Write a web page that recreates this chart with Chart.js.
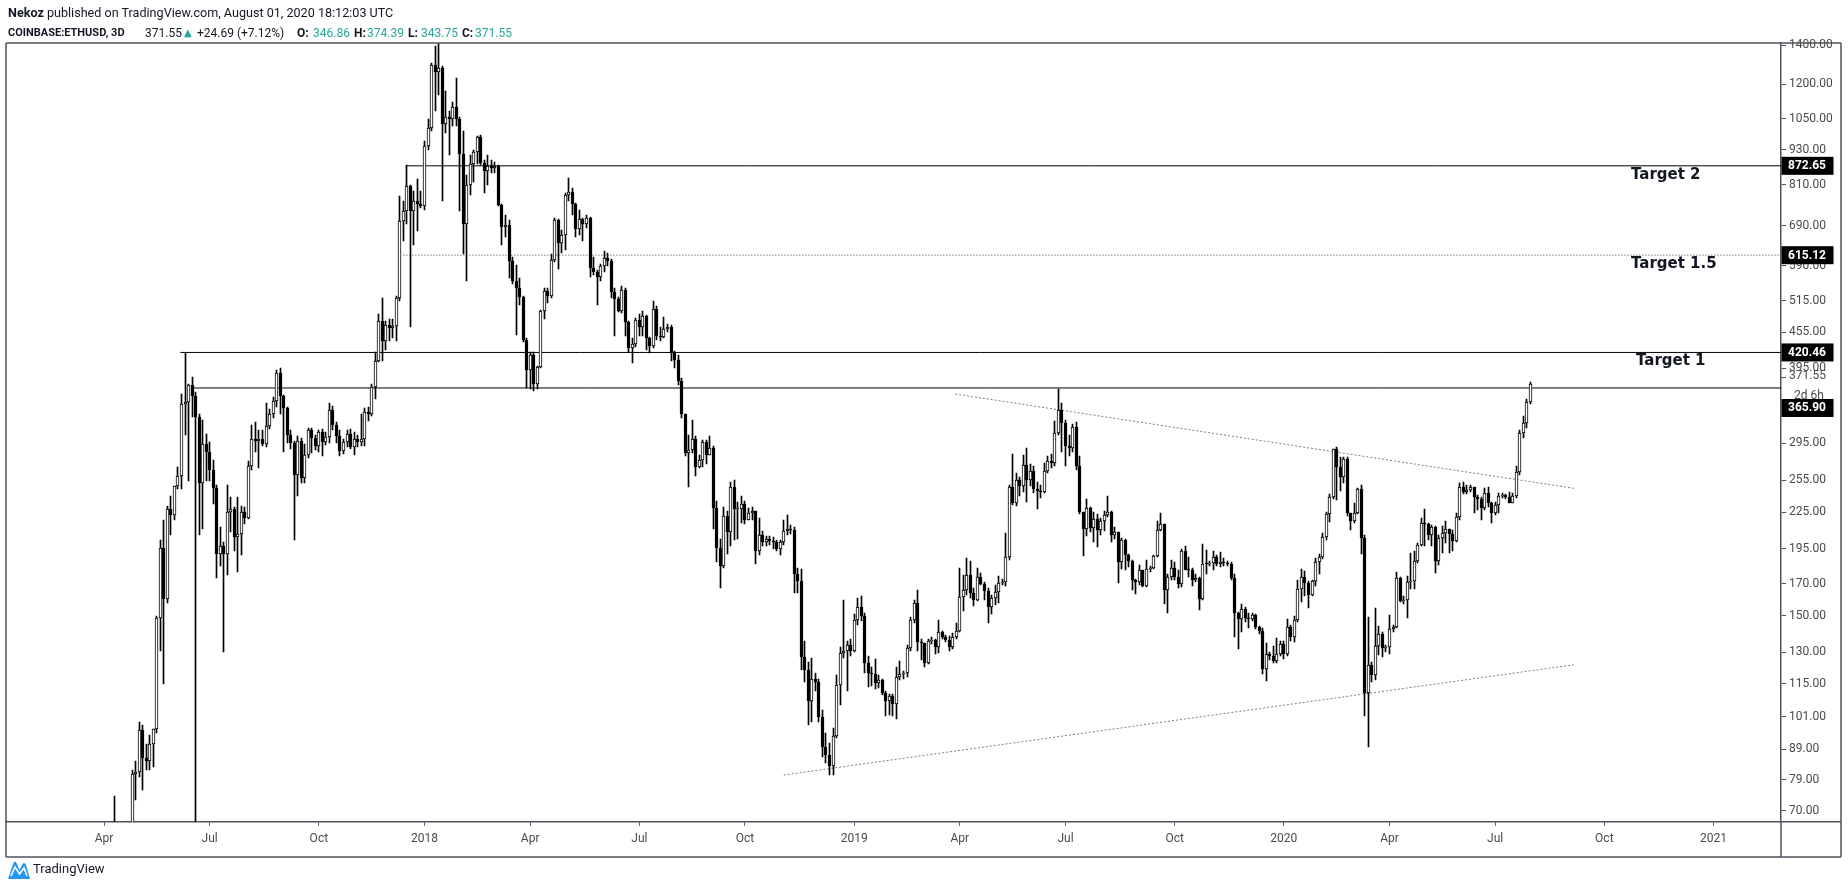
<!DOCTYPE html>
<html>
<head>
<meta charset="utf-8">
<title>COINBASE:ETHUSD, 3D</title>
<script src="https://cdn.jsdelivr.net/npm/chart.js@4.4.0/dist/chart.umd.min.js"></script>
<style>
  html, body { margin: 0; padding: 0; background: #fff; }
  #wrap { position: relative; width: 1848px; height: 888px; overflow: hidden; background: #fff; }
  #myChart { position: absolute; left: 0; top: 0; }
  .txt { position: absolute; font-family: Roboto, 'Liberation Sans', sans-serif; font-size: 12px;
         line-height: 14px; color: #131722; white-space: nowrap; }
  .bold { font-weight: bold; }
  .up { color: #26a69a; }
</style>
</head>
<body>
<div id="wrap">
  <canvas id="myChart" width="1848" height="888"></canvas>

  <div class="txt" style="left:8px;top:6px;font-size:12.6px"><span class="bold">Nekoz</span> published on TradingView.com, August 01, 2020 18:12:03 UTC</div>
  <div class="txt bold" style="left:8px;top:26px;font-size:11px">COINBASE:ETHUSD, 3D</div>
  <div class="txt" style="left:145px;top:26px">371.55</div>
  <div class="txt up" style="left:184px;top:26px;font-family:'DejaVu Sans';font-size:10px">▲</div>
  <div class="txt" style="left:197px;top:26px">+24.69 (+7.12%)</div>
  <div class="txt bold" style="left:297px;top:26px">O:</div>
  <div class="txt up" style="left:313px;top:26px">346.86</div>
  <div class="txt bold" style="left:354px;top:26px">H:</div>
  <div class="txt up" style="left:367px;top:26px">374.39</div>
  <div class="txt bold" style="left:408px;top:26px">L:</div>
  <div class="txt up" style="left:421px;top:26px">343.75</div>
  <div class="txt bold" style="left:462px;top:26px">C:</div>
  <div class="txt up" style="left:475px;top:26px">371.55</div>

  <svg style="position:absolute;left:7px;top:858px" width="24" height="22" viewBox="0 0 24 22">
    <path d="M1 21 L6 6 Q8 1 10 6 L12.5 12 L15 7 Q17 3 19 7 L23 21 Z" fill="#2196f3"/>
    <polyline points="4,18 8,9 12.5,16 17,10 20,18" fill="none" stroke="#fff" stroke-width="1.6"/>
  </svg>
  <div class="txt" style="left:33px;top:861px;font-size:13px;line-height:16px">TradingView</div>
</div>

<script>
// 3D bars, counted in days from 2018-01-01; first bar opens 2017-04-12
const barStartDay = -264;
const barStepDays = 3;

const opens = [
  50,52,50,49,49,62,80.7,81.5,96,86,
  85,91,96.5,149,196,160,228,223,249,259,
  343,346,370,354,327,252,294,285,265,247,
  191,197,191,225,228,204,207,225,220,270,
  300,297,300,294,315,330,348,388,354,338,
  305,295,260,297,257,282,310,301,292,308,
  296,302,336,316,303,286,296,306,290,300,
  296,300,333,331,368,407,475,440,468,462,
  466,520,704,732,805,732,760,752,745,942,
  1012,1293,1262,1281,1029,1055,1050,1098,1050,913,
  696,810,880,922,977,884,855,871,866,871,
  750,686,692,601,555,540,523,442,393,417,
  372,397,495,534,525,604,707,644,667,780,
  788,752,682,708,695,712,585,575,565,590,
  608,602,533,518,495,536,474,428,435,477,
  465,485,445,432,499,449,446,461,465,420,
  408,376,331,284,287,300,269,276,296,282,
  289,229,196,182,222,208,248,228,228,232,
  218,224,226,193,206,200,203,201,200,195,
  200,209,211,210,177,172,127.6,121.5,107.5,117.4,
  115.6,100.9,89.9,87.2,83.3,93.8,114.5,129.6,130.5,134,
  131,147.6,155.5,150,124.6,119.8,119.5,115.5,116.7,111,
  107.7,109.7,106.3,118.3,119.5,119.8,132.1,147.6,158,135.6,
  134.7,124.9,136.1,136.5,132.6,141,138,136.5,133,138,
  141.6,161.3,166,176,164.3,159.6,174.8,169.9,165.5,155.5,
  160.7,165,170.8,171.4,189.1,248.7,233.6,255.3,249,270.7,
  255.3,264.7,246,244.4,244,264.7,275.2,272.7,307.2,335.7,
  318.5,291.9,288.9,313.5,269.2,224.9,210.6,228.7,211.4,219.1,
  209.8,217.7,222.6,225.4,206,208,185.3,201.8,190.7,186,
  172.4,171.3,179.3,168.4,180.5,181.2,189.4,209.8,214.9,166.2,
  174.7,181.2,174.7,169.7,193,179.8,179.5,172.9,174.3,160.4,
  184,183.5,184.5,188.9,184,185.3,184.8,184,174.3,151.8,
  148,154.4,148.5,148,150.8,143.8,141.6,122,129,128.2,
  125.7,129,134.5,129,143.8,138,147.8,166.9,174.8,170.8,
  162.6,171.9,185.1,189,204.3,223.6,238.5,287.9,269.1,257.9,
  276.9,224.2,217.1,224.2,246.1,203.5,110.9,123.6,119.2,133.2,
  139.8,132.2,132.6,142.5,143.5,174.2,159.1,159.6,171.2,171.7,
  185.9,198.3,215.7,214.9,206.1,212.4,185.9,203.5,207.5,210.7,
  206.9,200.9,220.7,248.7,243.9,245.5,248,238.5,236.6,228.6,
  242.9,233,224.7,231.5,239.7,240.7,239.1,233.6,239.7,263.8,
  307,318.6,346.86
];
const highs = [
  74,60,55,52,63,82,85,99,98,91,
  94,96.5,150,202,218,231,240,249,269,358,
  420,372,382,360,330,323,306,296,276,250,
  212,200,250,239,230,239,231,230,275,316,
  320,310,310,345,337,353,392,395,356,340,
  310,297,303,301,294,313,313,305,311,312,
  308,345,341,320,310,300,310,312,308,305,
  330,338,340,372,422,489,520,475,480,480,
  525,775,760,877,810,790,830,790,960,1050,
  1305,1392,1420,1290,1168,1080,1120,1230,1055,999,
  843,910,930,982,985,894,912,894,885,875,
  752,720,707,610,593,562,525,445,422,422,
  398,497,540,540,617,712,710,680,785,833,
  800,755,735,712,720,715,612,580,595,625,
  620,606,540,522,545,540,476,445,482,488,
  495,487,447,515,505,465,483,470,469,423,
  416,380,331,305,323,303,281,298,298,303,
  292,235,203,230,226,253,255,234,240,235,
  229,230,226,220,209,205,205,204,202,202,
  218,223,214,212,181,180,136,125,127,120,
  117,103.7,94.8,91.3,96.7,119,133,159.6,136,137,
  151,160.7,162,152,128.3,123,126.7,119,117,112,
  110.3,110.3,123,125.6,121,133.9,149.2,159.6,166,137,
  135,137,138,137,147.6,141.5,139,138.5,140.3,146,
  180.7,176,188.3,185.9,167,180.7,177.5,171.5,167,163,
  169,175.5,173,207.2,250,282.6,262,258,281.5,289,
  272,270,253,250,272.5,280,283,321,364,345,
  323,304,318,320,280.5,225.4,236.9,229.3,224.9,223.4,
  220,226,240,226.3,212,208.5,203.4,202.6,191.2,186.5,
  173.1,182.7,179.5,186.5,182,190,217.7,224,215,177,
  186.5,185.3,179.8,194.9,197.5,188.9,181.2,177,174.7,198.7,
  194,186,193.5,190,192.8,188,186,185.3,177,152.3,
  157.4,155.5,151.8,152,151.4,144,142.9,134.9,130,133.3,
  137.4,136,136,148,145,149.9,172.9,179.9,178.8,171.9,
  172.5,188.3,190.8,207.5,225.6,241.7,288.6,290.9,278.9,278.9,
  278.9,224.7,233,247.1,250.3,206,149.2,125,154.5,144.4,
  140.7,134,150.5,145,178,174.5,162,175.3,192,193.2,
  199.6,219.9,227.7,215.7,214.3,212.9,206,212.9,217.1,211,
  210.2,224.7,251.9,253.6,250.3,250.3,248.7,240.7,239.1,247.1,
  248,234.5,234.5,242.9,242.3,242,243.9,242.3,269.8,310.5,
  327.5,349.9,374.39
];
const lows = [
  47,48,47,46,48,60,73,80,76,82,
  82,83,95,131,115,158,206,218,246,246,
  305,254,327,0.1,206,211,254,254,232,174,
  182,130,176,208,193,178,190,215,219,265,
  285,268,292,291,312,325,340,330,285,295,
  288,202,240,252,252,278,284,287,285,280,
  293,295,310,295,280,283,290,288,282,290,
  292,292,322,328,350,405,407,425,440,445,
  440,515,650,694,465,640,676,740,735,930,
  1000,1083,1150,760,992,910,1020,1018,730,617,
  555,780,820,880,876,785,810,848,850,745,
  641,660,562,550,451,506,438,366,365,362,
  365,395,480,510,520,600,583,620,627,760,
  720,660,665,650,685,565,570,507,555,575,
  590,520,449,492,490,448,421,404,430,449,
  449,425,420,428,441,440,445,456,406,396,
  370,325,280,248,284,259,268,269,272,281,
  211,185,167,181,191,197,202,203,216,215,
  218,218,184,190,197,197,198,195,193,190,
  198,206,207,164,164,121.5,116,98,99,112,
  99,86.5,84.3,80.6,80.6,93,105.9,127,112,128,
  130,145,147,120,113.7,114,112.7,113,110,101.2,
  101.8,101.2,100.2,116.8,117,118,131,146,131,126,
  123,124.5,134.5,129,129.6,137,135.5,131,132,137,
  141,153,163,160.6,156,159,169,159.6,146,151,
  156.5,158,169,168.9,186.7,231.5,231,240,244,234,
  249,243,228,238,243,262,268,270,305,285,
  270,280,285,265,223.4,189.4,205.2,207.9,200,196.2,
  206,209,221,200,203,170.6,180.5,179.3,181.6,165.8,
  163.6,169,168,168,178,180,188.9,209.2,157.4,151.8,
  172.9,172.9,167.6,168,179.3,174.7,168.4,171,153.4,159.4,
  177,182,179.3,182,181.6,182,182,172.4,138,131.8,
  141,146.6,142.9,147,142.7,140,119.4,116.4,126,124.6,
  124.9,128,126.7,128,136,135.7,146.3,158.1,162.2,154.5,
  162.2,168.6,176.4,187.6,201.7,216.3,236.6,236,244.8,251.9,
  221.3,209.6,216,223.6,190.8,101.3,89.8,116,116.6,128.5,
  127.7,130,129.4,141,142.9,158.1,157,148.6,166.4,166.4,
  184.6,197,197,202.2,197,177.1,183,192,199.6,192,
  193.2,200.1,218.5,241.7,242,243.9,224.7,227.1,217.9,227.1,
  230,215.7,222.7,224.2,237.5,237,233,233,237.5,260.2,
  301.2,312.5,343.75
];
const closes = [
  52,50,49,49,62,80.7,81.5,96,86,85,
  91,96.5,149,196,160,228,223,249,259,343,
  346,370,354,327,252,294,285,265,247,191,
  197,191,225,228,204,207,225,220,270,300,
  297,300,294,315,330,348,388,354,338,305,
  295,260,297,257,282,310,301,292,308,296,
  302,336,316,303,286,296,306,290,300,296,
  300,333,331,368,407,475,440,468,462,466,
  520,704,732,805,732,760,752,745,942,1012,
  1293,1262,1281,1029,1055,1050,1098,1050,913,696,
  810,880,922,977,884,855,871,866,871,750,
  686,692,601,555,540,523,442,393,417,372,
  397,495,534,525,604,707,644,667,780,788,
  752,682,708,695,712,585,575,565,590,608,
  602,533,518,495,536,474,428,435,477,465,
  485,445,432,499,449,446,461,465,420,408,
  376,331,284,287,300,269,276,296,282,289,
  229,196,182,222,208,248,228,228,232,218,
  224,226,193,206,200,203,201,200,195,200,
  209,211,210,177,172,127.6,121.5,107.5,117.4,115.6,
  100.9,89.9,87.2,83.3,93.8,114.5,129.6,130.5,134,131,
  147.6,155.5,150,124.6,119.8,119.5,115.5,116.7,111,107.7,
  109.7,106.3,118.3,119.5,119.8,132.1,147.6,158,135.6,134.7,
  124.9,136.1,136.5,132.6,141,138,136.5,133,138,141.6,
  161.3,166,176,164.3,159.6,174.8,169.9,165.5,155.5,160.7,
  165,170.8,171.4,189.1,248.7,233.6,255.3,249,270.7,255.3,
  264.7,246,244.4,244,264.7,275.2,272.7,307.2,335.7,318.5,
  291.9,288.9,313.5,269.2,224.9,210.6,228.7,211.4,219.1,209.8,
  217.7,222.6,225.4,206,208,185.3,201.8,190.7,186,172.4,
  171.3,179.3,168.4,180.5,181.2,189.4,209.8,214.9,166.2,174.7,
  181.2,174.7,169.7,193,179.8,179.5,172.9,174.3,160.4,184,
  183.5,184.5,188.9,184,185.3,184.8,184,174.3,151.8,148,
  154.4,148.5,148,150.8,143.8,141.6,122,129,128.2,125.7,
  129,134.5,129,143.8,138,147.8,166.9,174.8,170.8,162.6,
  171.9,185.1,189,204.3,223.6,238.5,287.9,269.1,257.9,276.9,
  224.2,217.1,224.2,246.1,203.5,110.9,123.6,119.2,133.2,139.8,
  132.2,132.6,142.5,143.5,174.2,159.1,159.6,171.2,171.7,185.9,
  198.3,215.7,214.9,206.1,212.4,185.9,203.5,207.5,210.7,206.9,
  200.9,220.7,248.7,243.9,245.5,248,238.5,236.6,228.6,242.9,
  233,224.7,231.5,239.7,240.7,239.1,233.6,239.7,263.8,307,
  318.6,346.86,371.55
];

// time axis: first bar of each labelled month
const tickDays = [-273, -183, -90, 0, 90, 183, 273, 366, 456, 546, 639, 732, 822, 912, 1005, 1098];
const tickLabels = ['Apr', 'Jul', 'Oct', '2018', 'Apr', 'Jul', 'Oct', '2019', 'Apr', 'Jul', 'Oct', '2020', 'Apr', 'Jul', 'Oct', '2021'];
const priceTicks = [1400, 1200, 1050, 930, 810, 690, 590, 515, 455, 395, 340, 295, 255, 225, 195, 170, 150, 130, 115, 101, 89, 79, 70];

// drawings on the chart
const levelPrices = [872.65, 615.12, 420.46, 365.90];
const levelStartDays = [-15, -18, -208, -198];
const levelDotted = [false, true, false, false];
const trendDays = [[452, 979], [306, 979]];
const trendPrices = [[357.4, 247.1], [80.5, 123.9]];
const targetNames = ['Target 2', 'Target 1.5', 'Target 1'];
const targetPrices = [872.65, 615.12, 420.46];
const lastPrice = 371.55;

const xMin = -356.5, xMax = 1155.5;
const yMin = 67.05, yMax = 1411;

function myLoadFunction() {
    const ctx = document.getElementById('myChart').getContext('2d');

    const wicks = [], bodies = [], bodyColors = [];
    for (let k = 0; k < closes.length; k++) {
        const day = barStartDay + k * barStepDays;
        wicks.push({ x: day, y: [lows[k], highs[k]] });
        bodies.push({ x: day, y: [opens[k], closes[k]] });
        bodyColors.push(closes[k] >= opens[k] ? '#ffffff' : '#000000');
    }

    const levelSets = levelPrices.map((p, n) => ({
        type: 'line',
        data: [{ x: levelStartDays[n], y: p }, { x: xMax, y: p }],
        borderColor: levelDotted[n] ? '#444444' : '#000000',
        borderWidth: 1,
        borderDash: levelDotted[n] ? [1, 2] : [],
        pointRadius: 0,
        order: 4,
        clip: 0
    }));
    const trendSets = trendDays.map((d, n) => ({
        type: 'line',
        data: [{ x: d[0], y: trendPrices[n][0] }, { x: d[1], y: trendPrices[n][1] }],
        borderColor: '#808080',
        borderWidth: 1,
        borderDash: [2, 2],
        pointRadius: 0,
        order: 4,
        clip: 0
    }));

    // snap candle rectangles onto whole pixels so they stay crisp
    const snap = {
        id: 'snap',
        beforeDatasetsDraw(chart) {
            [0, 1].forEach(di => {
                chart.getDatasetMeta(di).data.forEach(el => {
                    el.x = Math.floor(el.x) + 0.5;
                    el.y = Math.round(el.y);
                    el.base = Math.round(el.base);
                    if (Math.abs(el.y - el.base) < 1) el.base = el.y + 1;
                });
            });
        }
    };

    // frame, target texts and price tags on the axis
    const overlay = {
        id: 'overlay',
        afterDraw(chart) {
            const c = chart.ctx, a = chart.chartArea, ys = chart.scales.y;
            const right = a.right + 60, bottom = a.bottom + 35.3;
            c.save();
            c.strokeStyle = '#50535e';
            c.lineWidth = 1.5;
            c.beginPath();
            c.moveTo(a.left, a.top); c.lineTo(right, a.top);
            c.moveTo(a.left, a.top); c.lineTo(a.left, bottom);
            c.moveTo(a.left, bottom); c.lineTo(right, bottom);
            c.moveTo(right, a.top); c.lineTo(right, bottom);
            c.moveTo(a.right, a.bottom); c.lineTo(right, a.bottom);
            c.moveTo(a.right, a.bottom); c.lineTo(a.right, bottom);
            c.stroke();

            c.fillStyle = '#131722';
            c.font = 'bold 15px "DejaVu Sans"';
            c.textBaseline = 'middle';
            const textX = [1631, 1631, 1636];
            targetNames.forEach((t, n) => {
                c.fillText(t, textX[n], ys.getPixelForValue(targetPrices[n]) + 9);
            });

            c.font = 'bold 12px Roboto';
            levelPrices.forEach((p, n) => {
                let yy = ys.getPixelForValue(p);
                if (n === 3) yy += 20;
                c.fillStyle = '#000000';
                c.fillRect(a.right + 0.5, yy - 9, 52, 18);
                c.fillStyle = '#ffffff';
                c.fillText(p.toFixed(2), a.right + 7, yy + 0.5);
            });

            const ly = ys.getPixelForValue(lastPrice) - 8;
            c.fillStyle = '#4a4a4a';
            c.font = '12px Roboto';
            c.fillText(lastPrice.toFixed(2), a.right + 8, ly);
            c.fillText('2d 6h', a.right + 13, ly + 20);
            c.strokeStyle = '#50535e';
            c.lineWidth = 1;
            c.beginPath();
            c.moveTo(a.right, ly + 1.5); c.lineTo(a.right + 5, ly + 1.5);
            c.stroke();
            c.restore();
        }
    };

    const myChartConfig = {
        type: 'bar',
        data: {
            datasets: [
                {
                    label: 'wicks',
                    data: wicks,
                    backgroundColor: '#000000',
                    barThickness: 1,
                    grouped: false,
                    order: 3,
                    clip: 0
                },
                {
                    label: 'bodies',
                    data: bodies,
                    backgroundColor: bodyColors,
                    borderColor: '#000000',
                    borderWidth: 1,
                    borderSkipped: false,
                    barThickness: 3,
                    minBarLength: 1,
                    grouped: false,
                    order: 2,
                    clip: 0
                },
                ...levelSets,
                ...trendSets
            ]
        },
        options: {
            responsive: false,
            devicePixelRatio: 1,
            animation: false,
            events: [],
            layout: { padding: { left: 6, top: 43, right: 7, bottom: 31 } },
            plugins: { legend: { display: false }, tooltip: { enabled: false } },
            scales: {
                x: {
                    type: 'linear',
                    min: xMin,
                    max: xMax,
                    bounds: 'data',
                    offset: false,
                    afterBuildTicks: s => { s.ticks = tickDays.map(v => ({ value: v })); },
                    afterFit: s => { s.height = 35.3; },
                    ticks: {
                        autoSkip: false,
                        maxRotation: 0,
                        padding: 6,
                        color: '#4a4a4a',
                        font: { family: 'Roboto', size: 12 },
                        callback: (v, i) => tickLabels[i]
                    },
                    grid: { drawOnChartArea: false, tickLength: 4, color: '#50535e', offset: false },
                    border: { color: '#50535e', width: 1.5 }
                },
                y: {
                    type: 'logarithmic',
                    position: 'right',
                    min: yMin,
                    max: yMax,
                    bounds: 'data',
                    afterBuildTicks: s => { s.ticks = priceTicks.map(v => ({ value: v })); },
                    afterFit: s => { s.width = 60; },
                    ticks: {
                        autoSkip: false,
                        padding: 3,
                        color: '#4a4a4a',
                        font: { family: 'Roboto', size: 12 },
                        callback: v => Number(v).toFixed(2)
                    },
                    grid: { drawOnChartArea: false, tickLength: 5, color: '#50535e' },
                    border: { color: '#50535e', width: 1.5 }
                }
            }
        },
        plugins: [snap, overlay]
    };
    const myChart = new Chart(ctx, myChartConfig);
}

document.addEventListener('DOMContentLoaded', myLoadFunction);
</script>
</body>
</html>
